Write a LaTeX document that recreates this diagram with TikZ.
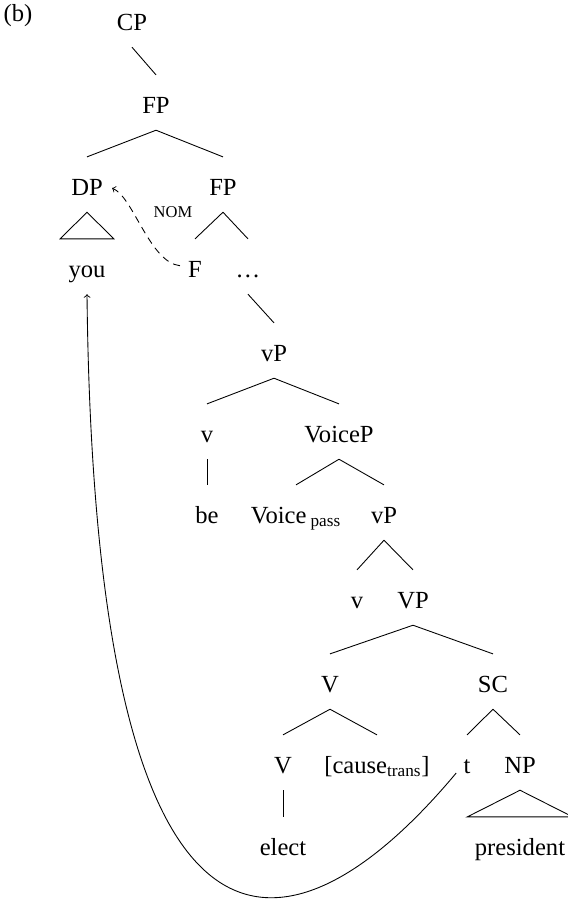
\documentclass[tikz,border=0pt]{standalone}
\usepackage{fontspec}
\setmainfont{Liberation Serif}
\tikzset{
    cat/.style ={
        anchor=base,
        inner sep=0pt,
        text height=21.5pt,
        text depth=9.6pt,
        font=\fontsize{14}{16}\selectfont
    },
    branch/.style ={
        draw=black,
        line width=0.5pt
    },
    agree/.style ={
        draw=black,
        line width=0.5pt,
        dash pattern=on 4pt off 3pt,
        ->,
        shorten <=4.5pt,
        shorten >=5.5pt
    },
    move/.style ={
        draw=black,
        line width=0.5pt,
        ->
    }
}

\begin{document}
\begin{tikzpicture}[x=0.02cm,y=-0.02cm]
    \useasboundingbox (0,0) rectangle (568,900);
    \node[cat] (b) at(18,21) {(b)};
    \node[cat] (CP) at(132,30) {CP};
    \node[cat] (FP) at(156,113) {FP};
    \node[cat] (DP) at(87,195) {DP};
    \node[cat] (FPb) at(223,195) {FP};
    \node[cat] (you) at(87,277) {you};
    \node[cat] (F) at(195,277) {F};
    \node[cat] (dots) at(248,277) {\dots};
    \node[cat] (vP) at(274,361) {vP};
    \node[cat] (v) at(207,442) {v};
    \node[cat] (VoiceP) at(339,442) {VoiceP};
    \node[cat] (be) at(207,523) {be};
    \node[cat] (Voice) at(296,523) {Voice\,\textsubscript{pass}};
    \node[cat] (vPb) at(384,523) {vP};
    \node[cat] (vb) at(357,608) {v};
    \node[cat] (VP) at(413,608) {VP};
    \node[cat] (V) at(330,692) {V};
    \node[cat] (SC) at(493,692) {SC};
    \node[cat] (Vb) at(283,773) {V};
    \node[cat] (cause) at(377,773) {[cause\textsubscript{trans}]};
    \node[cat] (t) at(467,773) {t};
    \node[cat] (NP) at(520,773) {NP};
    \node[cat] (elect) at(283,855) {elect};
    \node[cat] (president) at(520,855) {president};
    \node[font=\fontsize{9.4}{11}\selectfont] (nom) at(173,212) {NOM};

    \draw[branch] (CP.south) -- (FP.north);
    \draw[branch] (FP.south) -- (DP.north);
    \draw[branch] (FP.south) -- (FPb.north);
    \draw[branch] (DP.south) -- ([xshift=-15.3pt]you.north) -- ([xshift=15.3pt]you.north) -- cycle;
    \draw[branch] (FPb.south) -- (F.north);
    \draw[branch] (FPb.south) -- (dots.north);
    \draw[branch] (dots.south) -- (vP.north);
    \draw[branch] (vP.south) -- (v.north);
    \draw[branch] (vP.south) -- (VoiceP.north);
    \draw[branch] (v.south) -- (be.north);
    \draw[branch] (VoiceP.south) -- (Voice.north);
    \draw[branch] (VoiceP.south) -- (vPb.north);
    \draw[branch] (vPb.south) -- (vb.north);
    \draw[branch] (vPb.south) -- (VP.north);
    \draw[branch] (VP.south) -- (V.north);
    \draw[branch] (VP.south) -- (SC.north);
    \draw[branch] (V.south) -- (Vb.north);
    \draw[branch] (V.south) -- (cause.north);
    \draw[branch] (SC.south) -- (t.north);
    \draw[branch] (SC.south) -- (NP.north);
    \draw[branch] (Vb.south) -- (elect.north);
    \draw[branch] (NP.south) -- ([xshift=-30pt]president.north) -- ([xshift=30pt]president.north) -- cycle;

    \draw[agree] (F.west) .. controls +(-38,-4) and +(30,12) .. (DP.east);
    \draw[move] ([xshift=-4pt]t.base west) .. controls (300,960) and (95,1030) .. (you.south);
\end{tikzpicture}
\end{document}
